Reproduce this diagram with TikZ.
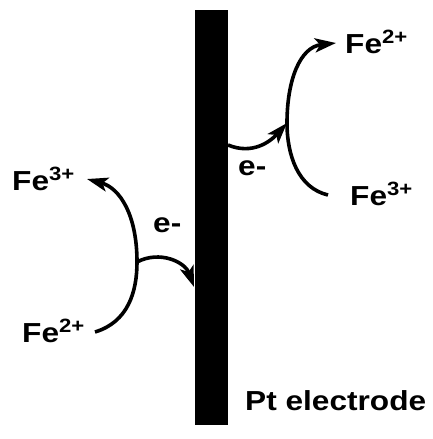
\documentclass[tikz,border=0pt]{standalone}
\usepackage{fontspec}
\setmainfont{Liberation Sans}[FakeStretch=1.15]
\usetikzlibrary{arrows.meta}

\begin{document}
\begin{tikzpicture}[
    x=1pt, y=-1pt,
    >={Stealth[length=21pt,width=14pt,inset=5pt]},
    ion/.style={font=\fontsize{27.5}{32}\selectfont\bfseries, inner sep=0pt, anchor=base west},
    electrode/.style={fill=black, inner sep=0pt, minimum width=33pt, minimum height=415pt},
    line/.style={draw, line width=3.6pt},
    arr/.style={draw, ->, line width=3.6pt}
]
    \useasboundingbox (0,0) rectangle (432,439);

    % Nodes
    \node [electrode] (pt) at (211.5,217) {};

    \node [ion] (fe3l) at (12,190) {Fe\textsuperscript{3+}};
    \node [ion] (fe2l) at (22,342) {Fe\textsuperscript{2+}};
    \node [ion] (el) at (153,232) {e-};

    \node [ion] (fe2r) at (345,53) {Fe\textsuperscript{2+}};
    \node [ion] (fe3r) at (350,205) {Fe\textsuperscript{3+}};
    \node [ion] (er) at (238,175) {e-};

    \node [ion] (ptlabel) at (245,410) {Pt electrode};

    \coordinate (jl) at (137,262);
    \coordinate (jr) at (287,123);
    \coordinate (inl) at (194,287);
    \coordinate (outr) at (228,145);
    \coordinate (from2l) at (95,332);
    \coordinate (to3l) at (87,179);
    \coordinate (from3r) at (328,195);
    \coordinate (to2r) at (336,43);

    % Connections
    \path [line] (from2l) .. controls (128,322) and (137,292) .. (jl);
    \path [arr] (jl) .. controls (137,215) and (120,188) .. (to3l);
    \path [arr] (jl) .. controls (160,250) and (185,262) .. (inl);

    \path [line] (from3r) .. controls (298,188) and (287,155) .. (jr);
    \path [arr] (jr) .. controls (287,80) and (300,47) .. (to2r);
    \path [arr] (outr) .. controls (252,155) and (270,142) .. (jr);

\end{tikzpicture}
\end{document}
